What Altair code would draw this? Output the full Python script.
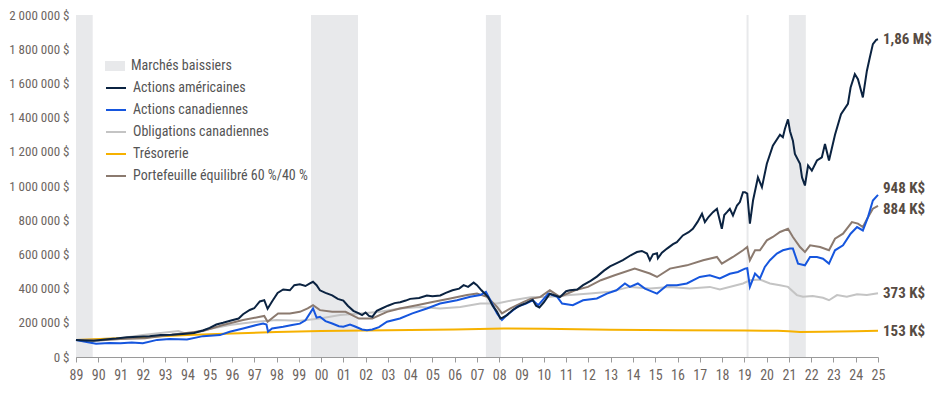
import altair as alt
import pandas as pd

FONT = "Roboto Condensed, Noto Sans Condensed, Liberation Sans Narrow, Arial Narrow, Roboto, sans-serif"

series_names = ["Actions américaines", "Actions canadiennes", "Obligations canadiennes",
                "Trésorerie", "Portefeuille équilibré 60 %/40 %"]
series_colors = ["#0b2341", "#1656de", "#c4c4c4", "#f6b100", "#8b7a6f"]

# values in thousands of dollars
us_t = [1989.0, 1989.4, 1989.8, 1990.3, 1990.8, 1991.3, 1991.8, 1992.3, 1992.8, 1993.3, 1993.8,
        1994.3, 1994.7, 1995.0, 1995.3, 1995.6, 1996.0, 1996.3, 1996.5, 1996.8, 1997.0, 1997.25,
        1997.45, 1997.6, 1997.8, 1998.05, 1998.3, 1998.6, 1998.8, 1999.05, 1999.3, 1999.5, 1999.64,
        1999.8, 1999.95, 2000.2, 2000.5, 2000.75, 2001.0, 2001.2, 2001.45, 2001.7, 2001.84, 2002.0,
        2002.15, 2002.3, 2002.5, 2002.75, 2003.0, 2003.3, 2003.55, 2003.8, 2004.0, 2004.4, 2004.75,
        2005.0, 2005.35, 2005.6, 2005.9, 2006.2, 2006.4, 2006.6, 2006.85, 2007.0, 2007.2, 2007.5,
        2007.7, 2007.9, 2008.05, 2008.15, 2008.35, 2008.6, 2008.93, 2009.2, 2009.5, 2009.65, 2009.8,
        2010.0, 2010.27, 2010.5, 2010.72, 2011.0, 2011.17, 2011.5, 2011.76, 2012.1, 2012.38, 2012.7,
        2012.97, 2013.3, 2013.55, 2013.9, 2014.18, 2014.4, 2014.63, 2014.76, 2014.9, 2015.08, 2015.12,
        2015.3, 2015.53, 2015.8, 2015.97, 2016.24, 2016.5, 2016.69, 2016.9, 2017.1, 2017.23, 2017.4,
        2017.59, 2017.77, 2017.99, 2018.1, 2018.22, 2018.35, 2018.49, 2018.67, 2018.8, 2018.94,
        2019.03, 2019.13, 2019.25, 2019.39, 2019.61, 2019.79, 2020.01, 2020.28, 2020.6, 2020.73,
        2020.82, 2020.96, 2021.05, 2021.18, 2021.27, 2021.5, 2021.59, 2021.72, 2021.86, 2022.03,
        2022.26, 2022.48, 2022.62, 2022.8, 2023.07, 2023.34, 2023.65, 2023.77, 2023.96, 2024.1,
        2024.28, 2024.32, 2024.5, 2024.63, 2024.77, 2024.92, 2025.0]
us_v = [100, 97, 95, 103, 108, 115, 118, 122, 128, 130, 135,
        140, 155, 170, 190, 200, 215, 225, 250, 275, 285, 325,
        332, 282, 325, 375, 395, 390, 420, 425, 415, 430, 440,
        420, 390, 375, 360, 340, 330, 300, 270, 255, 245, 260,
        240, 235, 270, 285, 300, 315, 320, 330, 340, 345, 360,
        355, 360, 375, 390, 400, 420, 410, 435, 420, 390, 350,
        300, 264, 225, 230, 245, 275, 300, 315, 335, 300, 290,
        320, 370, 360, 350, 385, 390, 395, 420, 445, 470, 505,
        530, 550, 566, 595, 614, 620, 605, 566, 600, 607, 577,
        610, 634, 660, 672, 711, 730, 750, 790, 838, 789, 820,
        847, 867, 750, 830, 847, 867, 828, 886, 906, 964,
        964, 956, 780, 915, 1050, 993, 1130, 1236, 1300, 1285,
        1333, 1390, 1320, 1265, 1188, 1130, 1050, 1003, 1120, 1090,
        1149, 1168, 1246, 1149, 1300, 1420, 1480, 1576, 1654, 1625,
        1538, 1518, 1673, 1750, 1830, 1855, 1858]

ca_t = [1989.0, 1989.3, 1989.9, 1990.5, 1991.0, 1991.5, 1992.0, 1992.64, 1993.2, 1993.98, 1994.7,
        1995.46, 1995.9, 1996.5, 1997.1, 1997.4, 1997.55, 1997.62, 1997.8, 1998.3, 1998.7, 1999.05,
        1999.3, 1999.5, 1999.64, 1999.8, 1999.95, 2000.2, 2000.5, 2000.8, 2001.0, 2001.3, 2001.5,
        2001.84, 2002.06, 2002.3, 2002.6, 2002.96, 2003.54, 2004.1, 2004.75, 2005.34, 2006.1, 2006.7,
        2007.15, 2007.4, 2007.6, 2007.9, 2008.12, 2008.34, 2008.8, 2009.2, 2009.5, 2009.75, 2010.2,
        2010.6, 2010.82, 2011.3, 2011.76, 2012.38, 2012.83, 2013.26, 2013.64, 2013.86, 2014.22,
        2014.54, 2015.08, 2015.53, 2015.97, 2016.42, 2017.0, 2017.45, 2017.9, 2018.35, 2018.71,
        2019.03, 2019.13, 2019.25, 2019.48, 2019.7, 2019.92, 2020.15, 2020.46, 2020.73, 2021.05,
        2021.18, 2021.41, 2021.72, 2021.95, 2022.26, 2022.53, 2022.8, 2023.07, 2023.43, 2023.77,
        2024.06, 2024.32, 2024.55, 2024.77, 2025.0]
ca_v = [100, 92, 78, 82, 80, 85, 80, 100, 105, 103, 122,
        128, 148, 167, 187, 196, 190, 148, 167, 177, 187, 195,
        215, 255, 284, 230, 235, 210, 196, 180, 177, 190, 180,
        161, 157, 161, 175, 206, 225, 255, 284, 313, 332, 352,
        362, 381, 332, 255, 216, 245, 293, 313, 332, 303, 371,
        352, 313, 303, 332, 342, 371, 390, 430, 410, 430,
        400, 371, 420, 420, 430, 468, 478, 459, 487, 497,
        517, 519, 410, 488, 459, 527, 566, 605, 624, 634,
        634, 546, 536, 585, 585, 575, 546, 624, 653, 721,
        760, 740, 818, 915, 948]

bd_t = [1989.0, 1990.0, 1991.0, 1992.0, 1992.8, 1993.3, 1993.6, 1994.0, 1994.7, 1995.9, 1997.1,
        1998.0, 1999.05, 1999.95, 2000.85, 2001.75, 2002.65, 2003.54, 2004.45, 2005.34, 2006.25,
        2007.15, 2007.9, 2008.6, 2009.4, 2010.3, 2011.17, 2012.07, 2012.97, 2013.86, 2014.76,
        2015.66, 2016.55, 2017.45, 2017.9, 2018.94, 2019.25, 2019.7, 2020.15, 2020.6, 2020.96,
        2021.36, 2021.63, 2022.07, 2022.53, 2022.8, 2023.16, 2023.6, 2024.06, 2024.5, 2025.0]
bd_v = [100, 105, 109, 128, 140, 148, 152, 134, 157, 187, 206,
        216, 212, 225, 245, 255, 264, 284, 293, 284, 293,
        313, 313, 332, 350, 352, 362, 371, 381, 410, 400,
        410, 400, 410, 395, 430, 449, 453, 430, 420, 410,
        362, 352, 356, 346, 332, 362, 352, 367, 362, 373]

tr_t = [1989.0, 1991.0, 1994.0, 1996.0, 1998.0, 2000.0, 2003.0, 2006.0, 2008.2, 2010.0, 2013.0,
        2016.0, 2019.0, 2020.5, 2021.0, 2021.5, 2022.5, 2024.0, 2025.0]
tr_v = [100, 110, 128, 138, 146, 152, 157, 161, 167, 165, 160,
        157, 155, 153, 150, 146, 147, 150, 153]

bal_t = [1989.0, 1990.0, 1991.0, 1992.1, 1993.2, 1994.7, 1995.6, 1996.5, 1997.26, 1997.45, 1997.6,
         1998.07, 1998.6, 1999.05, 1999.4, 1999.64, 1999.95, 2000.5, 2001.1, 2001.7, 2002.3, 2002.96,
         2003.54, 2004.3, 2005.0, 2005.8, 2006.55, 2007.0, 2007.45, 2007.9, 2008.12, 2008.5, 2009.1,
         2009.4, 2009.83, 2010.27, 2010.72, 2011.4, 2011.98, 2012.56, 2013.18, 2014.08, 2014.76,
         2015.08, 2015.66, 2016.42, 2017.15, 2017.77, 2017.99, 2018.49, 2018.94, 2019.13, 2019.25,
         2019.48, 2019.7, 2020.01, 2020.28, 2020.6, 2020.96, 2021.18, 2021.5, 2021.72, 2021.95,
         2022.4, 2022.8, 2023.07, 2023.43, 2023.83, 2024.1, 2024.32, 2024.55, 2024.77, 2025.0]
bal_v = [100, 97, 105, 110, 128, 152, 187, 216, 235, 240, 206,
         255, 255, 264, 284, 303, 274, 264, 264, 225, 225, 264,
         284, 303, 322, 342, 362, 371, 352, 293, 255, 284, 322,
         340, 350, 390, 352, 390, 410, 449, 478, 517, 488,
         468, 517, 536, 566, 585, 546, 585, 624, 643, 566,
         624, 624, 682, 702, 731, 750, 702, 643, 614, 653,
         643, 624, 692, 721, 789, 780, 760, 818, 867, 884]

bear_start = [1989.0, 1999.55, 2007.4, 2019.1, 2021.0]
bear_end = [1989.75, 2001.66, 2008.07, 2019.19, 2021.76]
bear_label = "Marchés baissiers"

end_labels = ["1,86 M$", "948 K$", "884 K$", "373 K$", "153 K$"]
year_ticks = list(range(1989, 2026))
value_ticks = list(range(0, 2000001, 200000))

rows = []
for name, ts, vs in zip(series_names, [us_t, ca_t, bd_t, tr_t, bal_t], [us_v, ca_v, bd_v, tr_v, bal_v]):
    for t, v in zip(ts, vs):
        rows.append({"serie": name, "t": t, "v": v * 1000})
df = pd.DataFrame(rows)

ends = pd.DataFrame({
    "serie": series_names,
    "t": [us_t[-1], ca_t[-1], bd_t[-1], tr_t[-1], bal_t[-1]],
    "v": [us_v[-1] * 1000, ca_v[-1] * 1000, bd_v[-1] * 1000, tr_v[-1] * 1000, bal_v[-1] * 1000],
    "lab": [end_labels[0], end_labels[1], end_labels[3], end_labels[4], end_labels[2]],
})

bears = pd.DataFrame({"a": bear_start, "b": bear_end, "k": [bear_label] * len(bear_start)})

xs = alt.Scale(domain=[1989, 2025], nice=False, zero=False)
ys = alt.Scale(domain=[0, 2000000], nice=False)

x_axis = alt.Axis(values=year_ticks, labelExpr="substring(format(datum.value, 'd'), 2)",
                  title=None, grid=False, tickSize=5, labelPadding=6, labelFontSize=14,
                  labelOverlap=False, labelFlush=False, domainColor="#9a9a9a", tickColor="#9a9a9a")
y_axis = alt.Axis(values=value_ticks,
                  labelExpr="replace(replace(format(datum.value, ','), ',', ' '), ',', ' ') + ' $'",
                  title=None, grid=False, ticks=False, labelPadding=7, labelFontSize=13,
                  labelOverlap=False, domainColor="#9a9a9a")

bear_layer = alt.Chart(bears).mark_rect(opacity=1).encode(
    x=alt.X("a:Q", scale=xs, axis=x_axis),
    x2="b:Q",
    y=alt.datum(0, scale=ys, axis=y_axis),
    y2=alt.datum(2000000),
    fill=alt.Fill("k:N", scale=alt.Scale(domain=[bear_label], range=["#e8e9eb"]),
                  legend=alt.Legend(title=None, orient="none", legendX=29, legendY=41, padding=0,
                                    symbolType="M-1,-0.5H1V0.5H-1Z", symbolSize=400,
                                    symbolStrokeWidth=0, labelFontSize=14, labelOffset=6,
                                    labelLimit=400, labelColor="#555555", labelFont=FONT)),
)

color = alt.Color("serie:N", scale=alt.Scale(domain=series_names, range=series_colors),
                  legend=alt.Legend(title=None, orient="none", legendX=29, legendY=62, padding=0,
                                    symbolType="stroke", symbolSize=400, symbolStrokeWidth=2,
                                    labelFontSize=14, labelOffset=6, rowPadding=4, labelLimit=400,
                                    labelColor="#555555", labelFont=FONT))

draw_order = ["Obligations canadiennes", "Trésorerie", "Portefeuille équilibré 60 %/40 %",
              "Actions canadiennes", "Actions américaines"]
lines = []
for s in draw_order:
    lines.append(
        alt.Chart(df).transform_filter(alt.datum.serie == s).mark_line(strokeWidth=2).encode(
            x=alt.X("t:Q", scale=xs, axis=x_axis),
            y=alt.Y("v:Q", scale=ys, axis=y_axis),
            color=color,
            order="t:Q",
        )
    )

text_style = dict(align="left", baseline="middle", fontSize=15, fontWeight="bold",
                  color="#574b43", font=FONT)


def end_label(cond, dy):
    return alt.Chart(ends).transform_filter(cond).mark_text(dx=5, dy=dy, **text_style).encode(
        x=alt.X("t:Q", scale=xs, axis=x_axis),
        y=alt.Y("v:Q", scale=ys, axis=y_axis),
        text="lab:N")


labels_main = end_label((alt.datum.serie != "Actions canadiennes")
                        & (alt.datum.serie != "Portefeuille équilibré 60 %/40 %"), 0)
labels_ca = end_label(alt.datum.serie == "Actions canadiennes", -7)
labels_bal = end_label(alt.datum.serie == "Portefeuille équilibré 60 %/40 %", 3)

chart = alt.layer(bear_layer, *lines, labels_main, labels_ca, labels_bal).properties(
    width=802, height=342, autosize="none",
    padding={"left": 68, "top": 7, "right": 56, "bottom": 29},
).configure_view(stroke=None).configure_axis(
    labelFont=FONT, labelColor="#6d655f", domainWidth=1, labelOverlap=False
).configure_legend(labelFont=FONT)

chart.save("out.html", embed_options={"renderer": "svg", "actions": False})
